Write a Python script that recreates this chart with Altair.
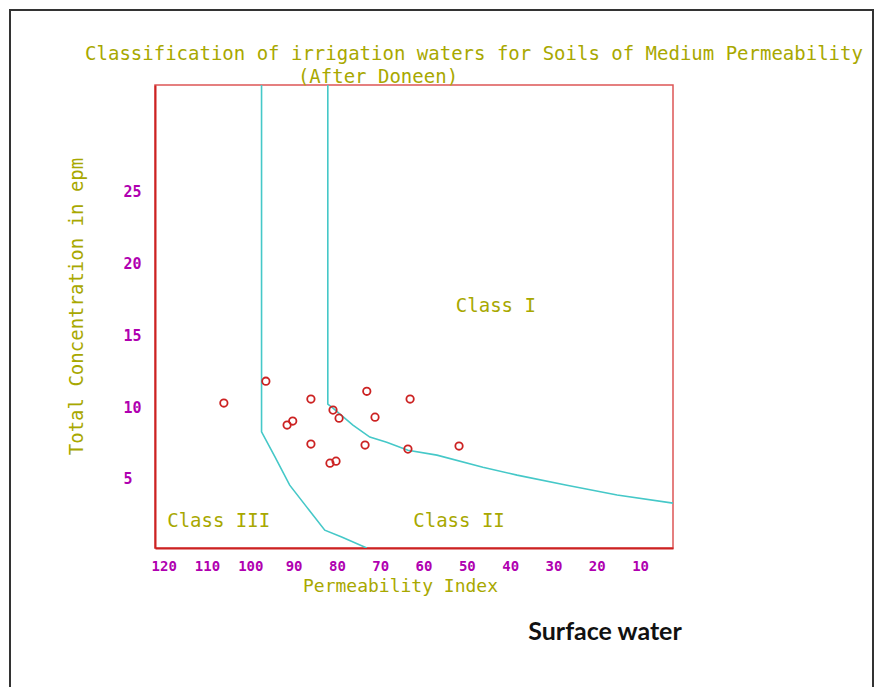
import altair as alt
import pandas as pd

# ---- data ----
x_ticks = [120, 110, 100, 90, 80, 70, 60, 50, 40, 30, 20, 10]
y_ticks = [5, 10, 15, 20, 25]

pts_x = [106.1, 96.4, 86.0, 91.5, 90.2, 86.0, 81.6, 80.2, 80.9, 79.5, 73.1, 63.1, 71.2, 73.5, 63.6, 51.8]
pts_y = [10.28, 11.8, 10.56, 8.75, 9.03, 7.43, 6.1, 6.24, 9.79, 9.23, 11.1, 10.56, 9.3, 7.36, 7.08, 7.29]

# boundary Class II / Class III
b23_x = [97.4, 97.4, 94.3, 90.9, 87.0, 82.8, 78.9, 73.1]
b23_y = [32.4, 8.28, 6.54, 4.57, 3.06, 1.44, 0.97, 0.2]
# boundary Class I / Class II
b12_x = [82.1, 82.1, 80.9, 76.3, 72.4, 68.5, 63.6, 56.9, 46.3, 38.4, 26.9, 15.3, 2.4]
b12_y = [32.4, 10.2, 9.93, 8.75, 7.91, 7.56, 7.0, 6.66, 5.82, 5.27, 4.57, 3.88, 3.32]

class_names = ["Class I", "Class II", "Class III"]
class_x = [43.3, 51.8, 107.3]
class_y = [17.0, 2.07, 2.07]

title1 = "Classification of irrigation waters for Soils of Medium Permeability"
title2 = "(After Doneen)"
x_title = "Permeability Index"
y_title = "Total Concentration in epm"
caption = "Surface water"

OLIVE = "#a8a800"
MAGENTA = "#b000b0"
RED = "#cc2222"
CYAN = "#45c8c8"
MONO = "DejaVu Sans Mono"

W, H = 518, 463

# ---- tables ----
pts = pd.DataFrame({"x": pts_x, "y": pts_y})
lines = pd.concat([
    pd.DataFrame({"x": b23_x, "y": b23_y, "seg": "b23", "o": range(len(b23_x))}),
    pd.DataFrame({"x": b12_x, "y": b12_y, "seg": "b12", "o": range(len(b12_x))}),
])
classes = pd.DataFrame({"x": class_x, "y": class_y, "t": class_names})
one = pd.DataFrame({"a": [0]})

xscale = alt.Scale(domain=[2.4, 122], reverse=True, nice=False, zero=False)
yscale = alt.Scale(domain=[0.2, 32.4], nice=False, zero=False)

xaxis = alt.Axis(values=x_ticks, title=x_title, grid=False, ticks=False, tickSize=0,
                 labelPadding=11, labelFont=MONO, labelFontSize=14, labelFontWeight="bold",
                 labelColor=MAGENTA, labelFlush=False, labelOverlap=False,
                 domainColor=RED, domainWidth=2,
                 titleFont=MONO, titleFontSize=18, titleFontWeight="normal", titleColor=OLIVE,
                 titleX=245, titleY=38, titleAlign="center", titleBaseline="middle")
yaxis = alt.Axis(values=y_ticks, title=y_title, grid=False, ticks=False, tickSize=0,
                 labelPadding=32, labelAlign="left", labelFont=MONO, labelFontSize=15,
                 labelFontWeight="bold", labelColor=MAGENTA, labelFlush=False,
                 domainColor=RED, domainWidth=2,
                 titleFont=MONO, titleFontSize=19, titleFontWeight="normal", titleColor=OLIVE,
                 titleX=-79, titleY=221, titleAngle=270, titleAlign="center",
                 titleBaseline="middle")

line_layer = alt.Chart(lines).mark_line(color=CYAN, strokeWidth=1.6, clip=True).encode(
    x=alt.X("x:Q", scale=xscale, axis=xaxis),
    y=alt.Y("y:Q", scale=yscale, axis=yaxis),
    detail="seg:N",
    order="o:Q",
)

point_layer = alt.Chart(pts).mark_point(shape="circle", filled=False, color=RED,
                                         size=55, strokeWidth=1.8, opacity=1).encode(
    x="x:Q", y="y:Q"
)

class_layer = alt.Chart(classes).mark_text(font=MONO, fontSize=19, color=OLIVE,
                                           align="center", baseline="middle").encode(
    x="x:Q", y="y:Q", text="t:N"
)

frame = alt.Chart(one).mark_rect(fill=None, stroke="#333333", strokeWidth=2).encode(
    x=alt.value(-145), x2=alt.value(718), y=alt.value(-75), y2=alt.value(700)
)

t1 = alt.Chart(one).mark_text(text=title1, font=MONO, fontSize=19, color=OLIVE,
                              align="center", baseline="middle").encode(
    x=alt.value(319), y=alt.value(-31))
t2 = alt.Chart(one).mark_text(text=title2, font=MONO, fontSize=19, color=OLIVE,
                              align="center", baseline="middle").encode(
    x=alt.value(223), y=alt.value(-8))
cap = alt.Chart(one).mark_text(text=caption, font="Lato", fontSize=25, fontWeight="bold",
                               color="#111111", align="center", baseline="middle").encode(
    x=alt.value(450), y=alt.value(547))

chart = alt.layer(frame, line_layer, point_layer, class_layer, t1, t2, cap).properties(
    width=W, height=H,
    background="white",
    autosize=alt.AutoSizeParams(type="none"),
    padding={"left": 147, "top": 77, "right": 201, "bottom": 139},
).configure_view(stroke="#dd5555", strokeWidth=1.5)

chart.save("out.html", embed_options={"renderer": "svg", "actions": False})
